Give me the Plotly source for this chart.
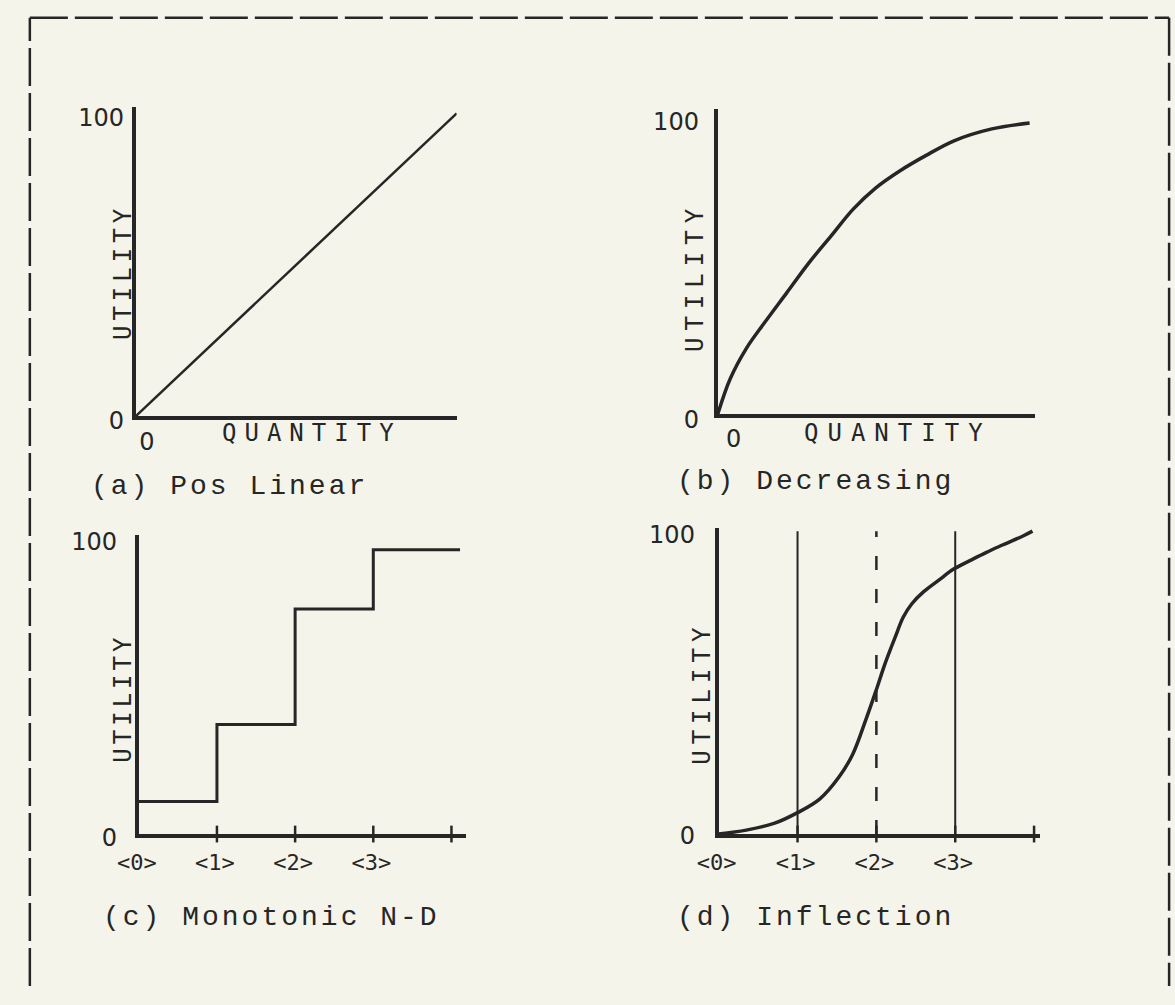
import plotly.graph_objects as go

W, H = 1175, 1005

# ---------------- data ----------------
# (a) Pos Linear
a_quantity = [0, 100]
a_utility = [0, 100]

# (b) Decreasing (concave curve)
b_quantity = [0, 4, 9, 15, 22, 29, 36, 43, 50, 58, 66, 75, 87, 99]
b_utility = [0, 12, 22, 31, 41, 51, 60, 69, 76, 82, 87, 92, 96, 98]

# (c) Monotonic N-D (step function)
c_levels_x = [0, 1, 2, 3, 4.11]
c_utility = [11, 37, 76, 96, 96]

# (d) Inflection (S-curve)
d_quantity = [0, 0.35, 0.71, 1.0, 1.28, 1.53, 1.70, 1.86, 1.99, 2.11, 2.24, 2.34, 2.45,
              2.6, 2.8, 2.98, 3.2, 3.39, 3.6, 3.86, 3.98]
d_utility = [0, 1.3, 3.6, 7.1, 11.6, 19.1, 26.5, 37.5, 47.2, 56.6, 65.5, 72, 76.5,
             80.5, 84.5, 88.0, 91.0, 93.5, 96.0, 99.0, 100.6]
d_guides = [1, 2, 3]          # vertical guide lines (2 is dashed)
d_guide_top = 100.6

# shared tick labels
ordinal_ticks = [0, 1, 2, 3]
ordinal_labels = ["&lt;0&gt;", "&lt;1&gt;", "&lt;2&gt;", "&lt;3&gt;"]
cross_ticks = [1, 2, 3, 4]
utility_ticks = [0, 100]
utility_labels = ["0", "100"]

titles = ["(a) Pos Linear", "(b) Decreasing", "(c) Monotonic N-D", "(d) Inflection"]

# ---------------- style ----------------
INK = "#262626"
BG = "#f4f4ea"
HAND = "DejaVu Sans"
HANDMONO = "DejaVu Sans Mono"
MONO = "Liberation Mono"


def ls(text, px):
    return f"<span style='letter-spacing:{px}px'>{text}</span>"


def px_x(p):
    return p / W


def px_y(p):
    return 1 - p / H


def xd(p0, p1):
    return [px_x(p0), px_x(p1)]


def yd(top, bottom):
    return [px_y(bottom), px_y(top)]


fig = go.Figure()

# (a)
fig.add_trace(go.Scatter(x=a_quantity, y=a_utility, mode="lines",
                         line=dict(color=INK, width=2.5), xaxis="x", yaxis="y"))
# (b)
fig.add_trace(go.Scatter(x=b_quantity, y=b_utility, mode="lines",
                         line=dict(color=INK, width=3.5, shape="spline", smoothing=1.0),
                         xaxis="x2", yaxis="y2"))
# (c)
fig.add_trace(go.Scatter(x=c_levels_x, y=c_utility, mode="lines",
                         line=dict(color=INK, width=3, shape="hv"),
                         xaxis="x3", yaxis="y3"))
fig.add_trace(go.Scatter(x=cross_ticks, y=[0] * len(cross_ticks), mode="markers",
                         marker=dict(symbol="line-ns", size=12, line=dict(color=INK, width=2.5)),
                         cliponaxis=False, xaxis="x3", yaxis="y3"))
# (d)
for g in d_guides:
    fig.add_trace(go.Scatter(x=[g, g], y=[0, d_guide_top], mode="lines",
                             line=dict(color=INK, width=2.5 if g == 2 else 2,
                                       dash="14px,19px" if g == 2 else "solid"),
                             xaxis="x4", yaxis="y4"))
fig.add_trace(go.Scatter(x=d_quantity, y=d_utility, mode="lines",
                         line=dict(color=INK, width=3.5, shape="spline", smoothing=1.0),
                         xaxis="x4", yaxis="y4"))
fig.add_trace(go.Scatter(x=cross_ticks, y=[0] * len(cross_ticks), mode="markers",
                         marker=dict(symbol="line-ns", size=12, line=dict(color=INK, width=2.5)),
                         cliponaxis=False, xaxis="x4", yaxis="y4"))

tickfont_hand = dict(family=HAND, size=24, color=INK)
tickfont_ord = dict(family=HANDMONO, size=22, color=INK)

common = dict(showgrid=False, zeroline=False, showline=True, linecolor=INK,
              linewidth=4, ticks="", fixedrange=True)

layout_axes = dict(
    # (a)
    xaxis=dict(domain=xd(116, 443), range=[0, 100], anchor="y",
               tickvals=[0], ticktext=["0"], tickfont=tickfont_hand,
               ticklabelshift=11, ticklabelstandoff=1, **common),
    yaxis=dict(domain=yd(103, 420), range=[0, 102], anchor="x",
               tickvals=utility_ticks, ticktext=utility_labels, tickfont=tickfont_hand,
               ticklabelstandoff=3, ticklabelshift=4, **common),
    # (b)
    xaxis2=dict(domain=xd(709, 1032), range=[0, 100.6], anchor="y2",
                tickvals=[0], ticktext=["0"], tickfont=tickfont_hand,
                ticklabelshift=16, ticklabelstandoff=0, **common),
    yaxis2=dict(domain=yd(105, 418), range=[0, 102.6], anchor="x2",
                tickvals=utility_ticks, ticktext=utility_labels, tickfont=tickfont_hand,
                ticklabelstandoff=10, ticklabelshift=5, **common),
    # (c)
    xaxis3=dict(domain=xd(119, 452), range=[0, 4.18], anchor="y3",
                tickvals=ordinal_ticks, ticktext=ordinal_labels, tickfont=tickfont_ord,
                ticklabelshift=-2, ticklabelstandoff=6, **common),
    yaxis3=dict(domain=yd(542, 849), range=[0, 101], anchor="x3",
                tickvals=utility_ticks, ticktext=utility_labels, tickfont=tickfont_hand,
                ticklabelstandoff=13, ticklabelshift=4, **common),
    # (d)
    xaxis4=dict(domain=xd(710, 1037), range=[0, 4.07], anchor="y4",
                tickvals=ordinal_ticks, ticktext=ordinal_labels, tickfont=tickfont_ord,
                ticklabelshift=-2, ticklabelstandoff=6, **common),
    yaxis4=dict(domain=yd(535, 849), range=[0, 101.6], anchor="x4",
                tickvals=utility_ticks, ticktext=utility_labels, tickfont=tickfont_hand,
                ticklabelstandoff=15, ticklabelshift=2, **common),
)

annotations = []


def ann(text, x, y, size, family, angle=0, xanchor="center"):
    annotations.append(dict(text=text, x=px_x(x), y=px_y(y), xref="paper", yref="paper",
                            showarrow=False, textangle=angle, xanchor=xanchor,
                            yanchor="middle", font=dict(family=family, size=size, color=INK)))


# axis names
ann(ls("QUANTITY", 8), 296, 437, 24, HANDMONO)
ann(ls("QUANTITY", 9), 893, 437, 24, HANDMONO)
ann(ls("UTILITY", 5), 103, 272, 24, HANDMONO, angle=-90)
ann(ls("UTILITY", 7), 686, 277, 24, HANDMONO, angle=-90)
ann(ls("UTILITY", 4), 103, 710, 24, HANDMONO, angle=-90)
ann(ls("UTILITY", 6), 693, 705, 24, HANDMONO, angle=-90)

# panel captions
ann(ls(titles[0].replace(" ", "&nbsp;"), 3), 68, 492, 28, MONO, xanchor="left")
ann(ls(titles[1].replace(" ", "&nbsp;"), 3), 665, 487, 28, MONO, xanchor="left")
ann(ls(titles[2].replace(" ", "&nbsp;"), 3), 80, 935, 28, MONO, xanchor="left")
ann(ls(titles[3].replace(" ", "&nbsp;"), 3), 665, 935, 28, MONO, xanchor="left")

# dashed frame (open at bottom)
frame = dict(color=INK, width=2.5, dash="38px,7px")
L, T, R = 8, 11, 1169
shapes = [
    dict(type="line", xref="paper", yref="paper", x0=px_x(L), y0=0, x1=px_x(L), y1=px_y(T), line=frame),
    dict(type="line", xref="paper", yref="paper", x0=px_x(L), y0=px_y(T), x1=px_x(R), y1=px_y(T), line=frame),
    dict(type="line", xref="paper", yref="paper", x0=px_x(R), y0=px_y(T), x1=px_x(R), y1=0, line=frame),
]

fig.update_layout(
    width=W, height=H, margin=dict(l=0, r=0, t=0, b=0),
    paper_bgcolor=BG, plot_bgcolor=BG, showlegend=False,
    annotations=annotations, shapes=shapes, **layout_axes,
)

page_fix = (
    "document.body.style.margin='0';"
    "document.body.style.padding='0';"
    "document.body.style.overflow='hidden';"
    f"document.body.style.background='{BG}';"
    f"document.documentElement.style.background='{BG}';"
)

fig.write_html("out.html", config={"displayModeBar": False}, post_script=page_fix)
